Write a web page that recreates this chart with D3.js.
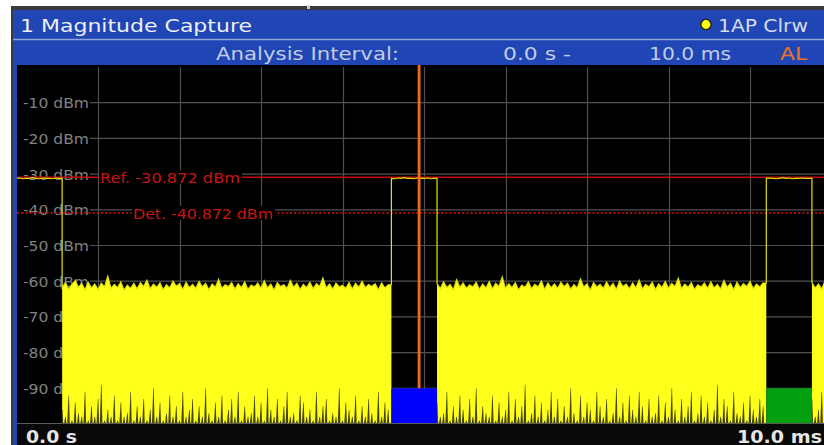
<!DOCTYPE html>
<html><head><meta charset="utf-8">
<script src="https://cdn.jsdelivr.net/npm/d3@7"></script>
<style>html,body{margin:0;padding:0;background:#fff;overflow:hidden}svg{display:block;font-family:"DejaVu Sans",sans-serif}</style>
</head><body><svg id="c" width="824" height="445"></svg>
<script>
// ---------- data ----------
const titleText = "1 Magnitude Capture";
const traceLabel = "1AP Clrw";
const intervalLabels = ["Analysis Interval:", "0.0 s -", "10.0 ms", "AL"];
const yTicks = [-10, -20, -30, -40, -50, -60, -70, -80, -90];
const yTickLabels = ["-10 dBm", "-20 dBm", "-30 dBm", "-40 dBm", "-50 dBm", "-60 dBm", "-70 dBm", "-80 dBm", "-90 dBm"];
const xTicks = [0, 1, 2, 3, 4, 5, 6, 7, 8, 9, 10];
const xEndLabels = ["0.0 s", "10.0 ms"];
const refLevel = -30.872;
const detLevel = -40.872;
const refLabel = "Ref. -30.872 dBm";
const detLabel = "Det. -40.872 dBm";
const markerTime = 4.94;
const burstStarts = [4.60, 9.20];
const burstEnds = [5.16, 9.76];
const indicatorTop = -90;
const sampleStep = 0.04; // ms
// trace top level (dBm), one value per sample
const traceDbm = [
 -31.2,-31.1,-31.3,-31.2,-31.2,-31.0,-31.2,-31.3,-31.1,-31.2,-31.2,-31.3,-31.1,-31.2,
 -61.8,-60.4,-62.2,-60.9,-59.8,-61.7,-60.6,-62.4,-60.3,-61.9,
 -60.8,-62.3,-60.5,-61.6,-58.6,-62.0,-60.9,-61.8,-60.2,-62.5,
 -61.1,-62.0,-60.6,-62.2,-60.4,-61.5,-59.7,-62.1,-60.8,-61.7,
 -60.5,-62.4,-61.0,-61.9,-60.0,-61.4,-60.7,-62.3,-60.3,-61.8,
 -60.9,-62.0,-60.1,-61.6,-60.6,-62.4,-60.8,-61.7,-59.5,-62.0,
 -61.0,-61.5,-60.4,-62.2,-60.7,-61.8,-60.2,-62.3,-61.1,-61.6,
 -60.5,-62.0,-59.9,-61.9,-60.8,-62.5,-60.4,-61.5,-61.0,-62.0,
 -59.8,-61.7,-60.6,-62.3,-60.9,-61.8,-60.3,-62.1,-60.7,-61.5,
 -59.1,-61.9,-60.8,-62.2,-60.5,-61.6,-61.1,-62.0,-60.4,-62.2,
 -60.6,-61.7,-60.0,-61.8,-60.9,-61.5,-60.7,-62.4,-60.5,-61.9,
 -61.0,
 -31.2,-31.3,-31.1,-31.2,-31.0,-31.2,-31.2,-31.3,-31.1,-31.2,-31.2,-31.1,-31.3,-31.2,
 -60.7,-62.1,-60.2,-61.8,-60.9,-62.4,-59.6,-61.7,-60.5,-62.0,
 -61.0,-61.6,-60.3,-62.3,-60.8,-61.9,-60.1,-62.2,-60.6,-61.5,
 -58.8,-62.0,-60.7,-61.8,-60.4,-62.4,-61.1,-61.7,-60.2,-62.1,
 -60.9,-61.6,-59.9,-62.3,-60.5,-61.8,-60.8,-62.0,-60.3,-61.5,
 -60.6,-62.2,-61.0,-61.9,-59.4,-61.7,-60.7,-62.5,-60.4,-61.6,
 -60.9,-62.0,-60.2,-61.8,-60.6,-62.3,-60.0,-61.5,-60.8,-62.1,
 -60.5,-61.9,-59.7,-62.2,-60.9,-61.6,-60.3,-62.4,-60.7,-61.8,
 -60.1,-62.0,-60.6,-61.5,-59.2,-62.1,-60.8,-61.7,-60.4,-62.3,
 -61.0,-61.6,-60.5,-62.0,-60.2,-61.9,-60.9,-62.2,-59.8,-61.7,
 -60.6,-62.4,-60.3,-61.8,-60.7,-61.5,-60.1,-62.1,-60.8,-61.6,
 -60.5,
 -31.2,-31.1,-31.2,-31.3,-31.2,-31.0,-31.2,-31.1,-31.3,-31.2,-31.2,-31.1,-31.2,-31.2,
 -60.4,-61.9,-60.8,-62.2,-59.9,-61.7,-60.6
];
// level (dBm) reached by the dark dips rising from the floor; null = inside a burst
const floorDbm = [
 null,null,null,null,null,null,null,null,null,null,null,null,null,null,
 -96,-98,-92,-99,-94,-97,-98,-91,-99,-95,
 -98,-93,-89,-99,-96,-98,-92,-99,-94,-98,
 -97,-91,-99,-95,-98,-93,-99,-96,-90,-98,
 -94,-99,-97,-92,-98,-95,-99,-91,-98,-96,
 -93,-99,-95,-98,-90,-97,-99,-94,-98,-92,
 -99,-96,-93,-98,-91,-99,-95,-98,-97,-92,
 -98,-94,-99,-90,-96,-98,-93,-99,-95,-91,
 -98,-97,-99,-92,-94,-98,-96,-99,-91,-98,
 -95,-93,-99,-97,-98,-90,-99,-94,-96,-98,
 -92,-99,-95,-98,-93,-97,-99,-91,-98,-94,
 -96,
 null,null,null,null,null,null,null,null,null,null,null,null,null,null,
 -94,-98,-97,-91,-99,-95,-98,-92,-96,-99,
 -93,-98,-90,-99,-95,-97,-98,-92,-99,-94,
 -98,-96,-91,-99,-93,-98,-95,-89,-99,-97,
 -92,-98,-94,-99,-96,-91,-98,-93,-99,-95,
 -98,-90,-97,-99,-92,-98,-94,-96,-99,-91,
 -95,-98,-93,-99,-97,-90,-98,-94,-99,-92,
 -96,-98,-91,-95,-99,-93,-98,-97,-92,-99,
 -94,-98,-90,-96,-99,-93,-98,-95,-91,-99,
 -97,-92,-98,-94,-99,-96,-89,-98,-93,-95,
 -99,-91,-97,-98,-94,-99,-92,-96,-98,-93,
 -95,
 null,null,null,null,null,null,null,null,null,null,null,null,null,null,
 -93,-98,-96,-91,-99,-95,-92
];

// ---------- layout ----------
const W = 824, H = 445;
const plot = {left: 16.5, right: 831.5, top: 67, bottom: 424};
const clipL = 17;
const x = d3.scaleLinear().domain([0, 10]).range([plot.left, plot.right]);
const y = d3.scaleLinear().domain([0, -100]).range([plot.top, plot.bottom]);

const svg = d3.select("#c");
const BLUE = "#1f46b4", YEL = "#ffff1c";

svg.append("rect").attr("width", W).attr("height", H).attr("fill", "#fff");
svg.append("rect").attr("x", 11).attr("y", 6).attr("width", W - 11).attr("height", H - 6).attr("fill", "#3a3a3a");
svg.append("rect").attr("x", 13).attr("y", 10).attr("width", W - 13).attr("height", H - 10).attr("fill", BLUE);
svg.append("line").attr("x1", 13).attr("x2", W).attr("y1", 39.5).attr("y2", 39.5).attr("stroke", "#8ea2d8").attr("stroke-width", 1.5);
svg.append("rect").attr("x", 307).attr("y", 5).attr("width", 3).attr("height", 4).attr("fill", "#d0d0d0");
// plot background and bottom strip
svg.append("rect").attr("x", clipL).attr("y", 65).attr("width", W - clipL).attr("height", H - 65).attr("fill", "#000");
svg.append("rect").attr("x", clipL).attr("y", plot.bottom).attr("width", W - clipL).attr("height", H - plot.bottom).attr("fill", "#080808");

// header texts
function txt(s, xx, yy, size, fill, len, weight) {
  const t = svg.append("text").attr("x", xx).attr("y", yy).attr("font-size", size).attr("fill", fill).text(s);
  if (len) t.attr("textLength", len).attr("lengthAdjust", "spacingAndGlyphs");
  if (weight) t.attr("font-weight", weight);
  return t;
}
txt(titleText, 20, 32, 18, "#eef0f6", 232);
svg.append("circle").attr("cx", 706).attr("cy", 24.5).attr("r", 5.2).attr("fill", "#ffff10").attr("stroke", "#2a2a2a").attr("stroke-width", 1.6);
txt(traceLabel, 718, 32, 18, "#d6dcec", 90);
txt(intervalLabels[0], 216, 59.5, 18, "#c3cce6", 183);
txt(intervalLabels[1], 503, 59.5, 18, "#c3cce6", 68);
txt(intervalLabels[2], 649, 59.5, 18, "#c3cce6", 82);
txt(intervalLabels[3], 780, 59.5, 18, "#ee7326", 27);

// clip
svg.append("defs").append("clipPath").attr("id", "pc").append("rect")
  .attr("x", clipL).attr("y", 65).attr("width", W - clipL).attr("height", plot.bottom - 65);
const g = svg.append("g").attr("clip-path", "url(#pc)");

// grid
const gridCol = "#505050";
g.selectAll(".vg").data(xTicks.slice(1)).join("line")
  .attr("x1", d => Math.round(x(d)) + 0.5).attr("x2", d => Math.round(x(d)) + 0.5)
  .attr("y1", plot.top).attr("y2", plot.bottom).attr("stroke", gridCol).attr("stroke-width", 1.2);
g.selectAll(".hg").data(yTicks).join("line")
  .attr("x1", clipL).attr("x2", W).attr("y1", d => y(d)).attr("y2", d => y(d))
  .attr("stroke", gridCol).attr("stroke-width", 1.2);

// y labels with black backing
const yl = g.selectAll(".yl").data(yTicks).join("g");
yl.append("rect").attr("x", clipL).attr("y", d => y(d) - 7).attr("width", 73).attr("height", 14).attr("fill", "#000");
yl.append("text").attr("x", 23).attr("y", d => y(d) + 5.5).attr("font-size", 14.5).attr("fill", "#828282")
  .attr("textLength", 66).attr("lengthAdjust", "spacingAndGlyphs").text((d, i) => yTickLabels[i]);

// ref / det lines
g.append("line").attr("x1", clipL).attr("x2", W).attr("y1", y(refLevel)).attr("y2", y(refLevel))
  .attr("stroke", "#c00c0c").attr("stroke-width", 1.6);
g.append("line").attr("x1", clipL).attr("x2", W).attr("y1", y(detLevel)).attr("y2", y(detLevel))
  .attr("stroke", "#c00c0c").attr("stroke-width", 1.6).attr("stroke-dasharray", "2,2.2");
g.append("rect").attr("x", 99).attr("y", y(refLevel) - 7).attr("width", 143).attr("height", 14).attr("fill", "#000");
g.append("text").attr("x", 100).attr("y", y(refLevel) + 6).attr("font-size", 14.5).attr("fill", "#c81414")
  .attr("textLength", 140).attr("lengthAdjust", "spacingAndGlyphs").text(refLabel);
g.append("rect").attr("x", 132).attr("y", y(detLevel) - 7).attr("width", 143).attr("height", 14).attr("fill", "#000");
g.append("text").attr("x", 133).attr("y", y(detLevel) + 6).attr("font-size", 14.5).attr("fill", "#c81414")
  .attr("textLength", 140).attr("lengthAdjust", "spacingAndGlyphs").text(detLabel);

// build trace points with vertical edges at burst transitions
const isBurst = v => v > -45;
const linePts = [], areaPts = [];
traceDbm.forEach((v, i) => {
  const t = i * sampleStep;
  if (i > 0) {
    const p = traceDbm[i - 1];
    if (isBurst(p) !== isBurst(v)) {
      linePts.push([t, p]);
      areaPts.push([t, isBurst(p) ? -100 : p]);
    }
  }
  linePts.push([t, v]);
  areaPts.push([t, isBurst(v) ? -100 : v]);
});
areaPts.push([10, traceDbm[traceDbm.length - 1]]);
linePts.push([10, traceDbm[traceDbm.length - 1]]);

const area = d3.area().x(d => x(d[0])).y0(y(-100)).y1(d => y(d[1]));
g.append("path").attr("d", area(areaPts)).attr("fill", YEL);
const line = d3.line().x(d => x(d[0])).y(d => y(d[1]));
g.append("path").attr("d", line(linePts)).attr("fill", "none").attr("stroke", "#e2e200").attr("stroke-width", 1.2);

// dark dips from the floor
const dips = floorDbm.map((v, i) => [i * sampleStep, v]).filter(d => d[1] !== null && d[1] > -100);
g.selectAll(".dip").data(dips).join("path")
  .attr("d", d => `M${x(d[0] - 0.018)},${y(-100)}L${x(d[0] - 0.002)},${y(d[1])}L${x(d[0] + 0.004)},${y(d[1])}L${x(d[0] + 0.014)},${y(-100)}Z`)
  .attr("fill", "#1c1c00").attr("fill-opacity", 0.82);

// marker line
g.append("line").attr("x1", x(markerTime)).attr("x2", x(markerTime)).attr("y1", 65).attr("y2", y(indicatorTop))
  .attr("stroke", "#f26a1c").attr("stroke-width", 2.8);

// burst indicators
const indColors = ["#0000ff", "#00a010"];
g.selectAll(".ind").data(burstStarts).join("rect")
  .attr("x", d => x(d)).attr("width", (d, i) => x(burstEnds[i]) - x(d))
  .attr("y", y(indicatorTop)).attr("height", y(-100) - y(indicatorTop))
  .attr("fill", (d, i) => indColors[i]);

// bottom border
svg.append("line").attr("x1", clipL).attr("x2", W).attr("y1", plot.bottom - 0.5).attr("y2", plot.bottom - 0.5)
  .attr("stroke", "#5a5a5a").attr("stroke-width", 1);

// x end labels
txt(xEndLabels[0], 26, 442.5, 18, "#e6e6e6", 51, "bold");
txt(xEndLabels[1], 737, 442.5, 18, "#e6e6e6", 85, "bold");
</script></body></html>
